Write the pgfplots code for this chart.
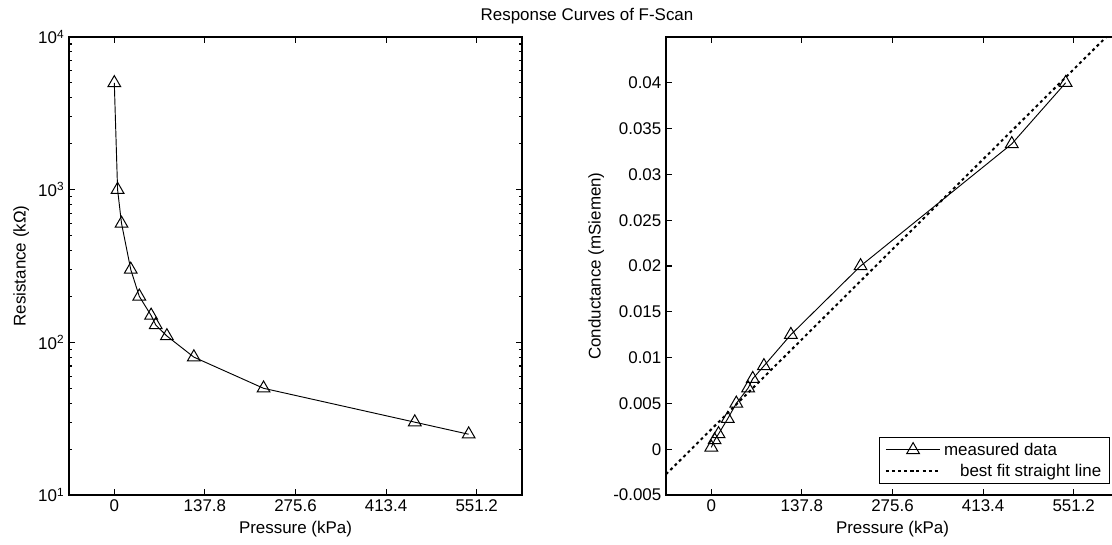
\documentclass[border=0pt]{standalone}
\usepackage{pgfplots}
\usepackage{pgfplotstable}
\pgfplotsset{compat=1.18}
\usepackage{fontspec}
\setmainfont{Liberation Sans}

% pressure (kPa), resistance (kOhm), conductance (mS)
\pgfplotstableread{
p R G
0 5000 0.0002
5 1000 0.001
11 600 0.001667
25 300 0.003333
38 200 0.005
56 150 0.006667
63 130 0.007692
80 110 0.009091
121 80 0.0125
227 50 0.02
457 30 0.03333
539 25 0.04
}\fscandata

\pgfplotsset{
  fscan/.style={
    scale only axis, width=339.75pt, height=343.5pt, anchor=south west,
    xmin=-68.9, xmax=620.1,
    xtick={0,137.8,275.6,413.4,551.2},
    xticklabels={0,137.8,275.6,413.4,551.2},
    scaled x ticks=false, scaled y ticks=false,
    tick align=inside,
    major tick length=4.5pt, minor tick length=2.5pt,
    every tick/.append style={black, line width=0.8pt},
    axis line style={line width=1pt},
    xlabel={Pressure (kPa)},
    tick label style={font=\fontsize{12.7}{15}\selectfont},
    label style={font=\fontsize{12.7}{15}\selectfont},
  },
  meas/.style={black, line width=0.7pt, mark=triangle, mark size=5.5pt,
    mark options={solid, line width=0.75pt}},
}

\begin{document}
\begin{tikzpicture}[font=\fontsize{12.7}{15}\selectfont]
\useasboundingbox (0,0) rectangle (834pt,408pt);
\clip (0,0) rectangle (834pt,408pt);

\begin{axis}[fscan,
    at={(51.75pt,36.75pt)},
    ymode=log, ymin=10, ymax=10000,
    ytick={10,100,1000,10000},
    yticklabels={10\textsuperscript{1},10\textsuperscript{2},10\textsuperscript{3},10\textsuperscript{4}},
    minor ytick={20,30,40,50,60,70,80,90,200,300,400,500,600,700,800,900,2000,3000,4000,5000,6000,7000,8000,9000},
    ylabel={Resistance (kΩ)},
  ]
  \addplot[meas] table[x=p, y=R] {\fscandata};
\end{axis}

\begin{axis}[fscan,
    at={(499.5pt,36.75pt)},
    ymin=-0.005, ymax=0.045,
    ytick={-0.005,0,0.005,0.01,0.015,0.02,0.025,0.03,0.035,0.04},
    yticklabels={-0.005,0,0.005,0.01,0.015,0.02,0.025,0.03,0.035,0.04},
    ylabel={Conductance (mSiemen)},
    legend style={at={(0.98,0.024)}, anchor=south east, draw=black, line width=1pt,
      fill=white, font=\fontsize{12.7}{15}\selectfont, cells={anchor=west},
      inner xsep=4pt, inner ysep=2pt, row sep=1pt},
    legend image code/.code={\draw[mark repeat=2,mark phase=2] plot coordinates {(0pt,0pt) (20.5pt,0pt) (41pt,0pt)};},
  ]
  \addplot[meas] table[x=p, y=G] {\fscandata};
  \addlegendentry{measured data}
  \addplot[black, line width=1.5pt, dash pattern=on 2.2pt off 2.4pt] coordinates {(-68.9,-0.00274) (620.1,0.04639)};
  \addlegendentry{\hspace*{12pt}best fit straight line}
\end{axis}

\node at (440.25pt,395.6pt) {Response Curves of F-Scan};
\end{tikzpicture}
\end{document}
